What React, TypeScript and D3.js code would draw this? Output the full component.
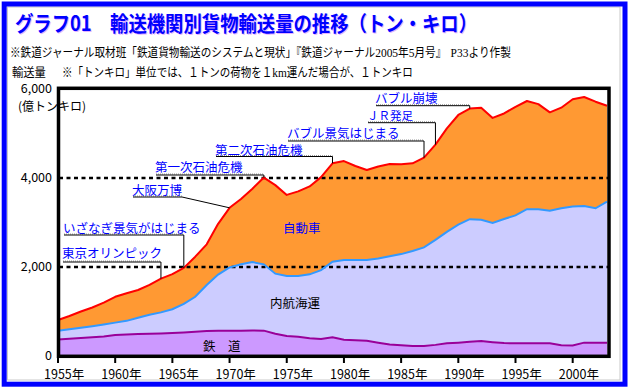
import React, { useLayoutEffect, useRef } from "react";
import * as d3 from "d3";

const years = [1955,1956,1957,1958,1959,1960,1961,1962,1963,1964,1965,1966,1967,1968,1969,1970,1971,1972,1973,1974,1975,1976,1977,1978,1979,1980,1981,1982,1983,1984,1985,1986,1987,1988,1989,1990,1991,1992,1993,1994,1995,1996,1997,1998,1999,2000,2001,2002,2003];

// 鉄道
const railValues = [370,390,405,420,440,470,485,494,500,505,515,530,547,560,565,569,570,575,570,500,450,435,400,380,420,365,355,340,300,260,240,225,225,250,285,300,320,335,310,290,285,285,285,285,240,235,300,300,300];
// 内航海運
const shipValues = [195,210,230,250,270,280,305,366,425,475,535,640,783,1036,1265,1421,1490,1535,1490,1350,1350,1365,1435,1550,1700,1792,1802,1817,1890,1980,2050,2135,2215,2360,2505,2650,2755,2725,2680,2790,2875,3015,3015,2980,3080,3125,3070,3020,3170];
// 自動車
const truckValues = [245,300,365,420,490,580,620,623,675,760,790,810,902,914,1140,1340,1470,1650,1950,1990,1820,1900,1975,2090,2210,2223,2113,2023,2070,2074,2020,1970,2017,2140,2326,2466,2485,2520,2360,2370,2440,2430,2360,2210,2260,2410,2450,2395,2155];

const seriesKeys = ["rail", "ship", "truck"];
const seriesNames = ["鉄　道", "内航海運", "自動車"];

const yTicks = [0, 2000, 4000, 6000];
const yTickLabels = ["0", "2,000", "4,000", "6,000"];
const gridValues = [2000, 4000];
const xTicks = [1955, 1960, 1965, 1970, 1975, 1980, 1985, 1990, 1995, 2000];

const eventNames = ["東京オリンピック", "いざなぎ景気がはじまる", "大阪万博", "第一次石油危機", "第二次石油危機", "バブル景気はじまる", "ＪＲ発足", "バブル崩壊"];
const eventYears = [1964, 1966, 1970, 1973, 1979, 1987, 1988, 1991];

// layout only (label positions)
const eventLayout = [
  { lx: 62, ly: 257.5, uy: 262, fs: 12.5 },
  { lx: 63, ly: 232.5, uy: 235, fs: 12.5 },
  { lx: 132, ly: 195, uy: 197, endX: 182, fs: 12.5 },
  { lx: 155, ly: 172, uy: 175, fs: 12.5 },
  { lx: 215, ly: 154.5, uy: 156.5, fs: 12.5 },
  { lx: 287, ly: 138, uy: 141, fs: 12.5 },
  { lx: 367, ly: 120, uy: 122.7, fs: 11.5 },
  { lx: 375, ly: 102.5, uy: 105.7, fs: 12.5 },
];

const JP = "'Noto Sans CJK JP', 'Noto Sans', sans-serif";
const SERIF = "'Liberation Serif', 'DejaVu Serif', serif";

function FitText(props: { x: number; y: number; width: number; fontSize: number; children: any }) {
  const ref = useRef<SVGTextElement>(null);
  useLayoutEffect(() => {
    const el = ref.current;
    if (!el) return;
    const len = el.getComputedTextLength();
    const s = len > 0 ? props.width / len : 1;
    el.setAttribute("transform", `translate(${props.x},${props.y}) scale(${s},1)`);
  });
  return (
    <text ref={ref} x={0} y={0} transform={`translate(${props.x},${props.y})`} fontFamily={JP} fontSize={props.fontSize} fill="#000">
      {props.children}
    </text>
  );
}

export default function App() {
  if (typeof document !== "undefined") document.body.style.margin = "0";
  const x = d3.scaleLinear().domain([1955, 2003]).range([58, 607]);
  const y = d3.scaleLinear().domain([0, 6000]).range([356, 89]);

  const table = years.map((yr, i) => ({ year: yr, rail: railValues[i], ship: shipValues[i], truck: truckValues[i] }));
  const stacked = d3.stack<any>().keys(seriesKeys)(table);

  const area = d3.area<any>().x((d) => x(d.data.year)).y0((d) => y(d[0])).y1((d) => y(d[1]));
  const line = d3.line<any>().x((d) => x(d.data.year)).y((d) => y(d[1]));

  const fills = ["#cc99ff", "#ccccff", "#ff9933"];
  const strokes = ["#990099", "#3399ff", "#ff0000"];

  const totalAt = (yr: number) => {
    const i = years.indexOf(yr);
    return railValues[i] + shipValues[i] + truckValues[i];
  };

  const topLayer = stacked[2];
  const redPath = "M" + x(1955) + "," + y(0) + "L" + line(topLayer)!.slice(1);

  return (
    <svg width={630} height={392} style={{ position: "absolute", left: 0, top: 0, background: "#fff" }}>
      <rect x={0} y={0} width={630} height={392} fill="#fff" />
      {/* outer frame */}
      <rect x={7.5} y={7} width={612.5} height={373} fill="none" stroke="#c8c8c8" strokeWidth={1} />
      <rect x={4.2} y={4} width={620.8} height={380.2} fill="none" stroke="#0000ff" strokeWidth={5} />

      {/* title */}
      <text x={16} y={32} fontFamily={JP} fontWeight={700} fontSize={21} fill="#cc66ff" opacity={0.5} textLength={462} lengthAdjust="spacingAndGlyphs">
        グラフ01　輸送機関別貨物輸送量の推移（トン・キロ）
      </text>
      <text x={15} y={31} fontFamily={JP} fontWeight={700} fontSize={21} fill="#0000ff" textLength={462} lengthAdjust="spacingAndGlyphs">
        グラフ01　輸送機関別貨物輸送量の推移（トン・キロ）
      </text>

      {/* subtitles */}
      <FitText x={10} y={56.5} width={497} fontSize={12.5}>
        ※鉄道ジャーナル取材班「鉄道貨物輸送のシステムと現状」『鉄道ジャーナル<tspan fontFamily={SERIF} fontSize={13.5}>2005</tspan>年<tspan fontFamily={SERIF} fontSize={13.5}>5</tspan>月号』<tspan fontFamily={SERIF} fontSize={13.5} dx={5}>P33</tspan>より作製
      </FitText>
      <FitText x={12} y={76.5} width={34} fontSize={12.5}>輸送量</FitText>
      <FitText x={62} y={76.5} width={351} fontSize={12.5}>
        ※「トンキロ」単位では、１トンの荷物を１<tspan fontFamily={SERIF} fontSize={13.5}>km</tspan>運んだ場合が、１トンキロ
      </FitText>

      {/* areas */}
      {stacked.map((s, i) => (
        <path key={"a" + i} d={area(s)!} fill={fills[i]} stroke="none" />
      ))}

      {/* dashed gridlines */}
      {gridValues.map((v) => (
        <line key={"g" + v} x1={59} x2={609} y1={y(v)} y2={y(v)} stroke="#000" strokeWidth={2.5} strokeDasharray="4,3.5" />
      ))}

      {/* series lines */}
      <path d={line(stacked[0])!} fill="none" stroke={strokes[0]} strokeWidth={2} />
      <path d={line(stacked[1])!} fill="none" stroke={strokes[1]} strokeWidth={2} />
      <path d={redPath} fill="none" stroke={strokes[2]} strokeWidth={2} strokeLinejoin="round" />

      {/* plot frame */}
      <rect x={58.5} y={88.3} width={550.5} height={268} fill="none" stroke="#000" strokeWidth={3.5} />

      {/* x ticks */}
      {xTicks.map((t) => (
        <g key={"xt" + t}>
          <line x1={x(t)} x2={x(t)} y1={357} y2={363} stroke="#000" strokeWidth={2} />
          <text x={x(t) - 14} y={378.5} fontFamily={JP} fontSize={12.5} fill="#000">
            {t}年
          </text>
        </g>
      ))}

      {/* y labels */}
      {yTicks.map((t, i) => (
        <text key={"yt" + t} x={52} y={y(t) + 4} textAnchor="end" fontFamily={JP} fontSize={12.5} fill="#000">
          {yTickLabels[i]}
        </text>
      ))}
      <text x={18} y={111} fontFamily={JP} fontSize={12} fill="#000">(億トンキロ)</text>

      {/* series labels */}
      <text x={283} y={233} fontFamily={JP} fontSize={12.5} fill="#0000ff">{seriesNames[2]}</text>
      <text x={270} y={307.7} fontFamily={JP} fontSize={12.5} fill="#000">{seriesNames[1]}</text>
      <text x={203} y={350.7} fontFamily={JP} fontSize={12.5} fill="#000">{seriesNames[0]}</text>

      {/* event annotations */}
      {eventNames.map((name, i) => {
        const L = eventLayout[i] as any;
        const ex = x(eventYears[i]);
        const ey = y(totalAt(eventYears[i]));
        const endX = L.endX ?? ex;
        return (
          <g key={"ev" + i}>
            <line x1={L.lx + 1} x2={endX} y1={L.uy - 1} y2={L.uy - 1} stroke="#999" strokeWidth={1} strokeDasharray="1,1" />
            <line x1={L.lx + 1} x2={endX} y1={L.uy} y2={L.uy} stroke="#000" strokeWidth={1} />
            {L.endX != null ? (
              <line x1={endX} y1={L.uy} x2={ex} y2={ey} stroke="#000" strokeWidth={1} />
            ) : (
              <line x1={ex} y1={L.uy} x2={ex} y2={ey} stroke="#000" strokeWidth={1} />
            )}
            <text x={L.lx} y={L.ly} fontFamily={JP} fontSize={L.fs} fill="#0000ff">{name}</text>
          </g>
        );
      })}
    </svg>
  );
}
